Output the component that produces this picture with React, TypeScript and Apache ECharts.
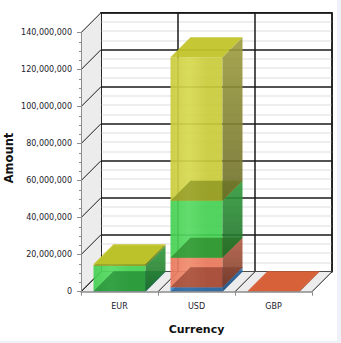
import React, { useEffect, useRef } from "react";
import * as echarts from "echarts";

const categories = ["EUR", "USD", "GBP"];
const blueValues = [300000, 2400000, 0];
const redValues = [0, 16000000, 200000];
const greenValues = [13600000, 30800000, 0];
const yellowValues = [1000000, 77500000, 0];
const yAxisMax = 140000000;
const yAxisStep = 20000000;

const DX = 20;
const DY = -20;
const BAR_RATIO = 0.675;

const seriesStyles = [
  { name: "Blue", values: blueValues, front: "#3a88c8", light: "#4a98d6", side: "#2c6ca8", sideDark: "#1f4f80", top: "#3a80c0", dark: "#143a66" },
  { name: "Red", values: redValues, front: "#e8775a", light: "#f08a6c", side: "#b05a40", sideDark: "#7a3a26", top: "#d95f36", dark: "#6a200c" },
  { name: "Green", values: greenValues, front: "#44cf51", light: "#55da61", side: "#2f9a3a", sideDark: "#1f6e28", top: "#3cbe48", dark: "#0e6016" },
  { name: "Yellow", values: yellowValues, front: "#c9cb3a", light: "#d6d84e", side: "#9c9c3e", sideDark: "#6e6e28", top: "#c2c42a", dark: "#6a6a10" },
];

function rgba(hex: string, a: number) {
  const h = hex.replace("#", "");
  const r = parseInt(h.substring(0, 2), 16);
  const g = parseInt(h.substring(2, 4), 16);
  const b = parseInt(h.substring(4, 6), 16);
  return `rgba(${r},${g},${b},${a})`;
}

function makeBarRender(st: any) {
  return (params: any, api: any) => {
    const ci = api.value(0);
    const lo = api.value(1);
    const hi = api.value(2);
    if (!(hi > lo)) return { type: "group", children: [] };
    const pLo = api.coord([ci, lo]);
    const pHi = api.coord([ci, hi]);
    const bw = api.size([1, 0])[0] * BAR_RATIO;
    const x0 = pLo[0] - bw / 2;
    const x1 = pLo[0] + bw / 2;
    const yb = pLo[1];
    const yt = pHi[1];
    const children: any[] = [];
    // front face
    children.push({
      type: "rect",
      shape: { x: x0, y: yt, width: bw, height: yb - yt },
      style: {
        fill: new echarts.graphic.LinearGradient(0, 0, 1, 0, [
          { offset: 0, color: rgba(st.front, 0.92) },
          { offset: 0.35, color: rgba(st.light, 0.92) },
          { offset: 0.7, color: rgba(st.front, 0.92) },
          { offset: 1, color: rgba(st.front, 0.92) },
        ]),
      },
    });
    // bottom face seen through
    children.push({
      type: "polygon",
      shape: { points: [[x0, yb], [x1, yb], [x1 + DX, yb + DY], [x0 + DX, yb + DY]] },
      style: { fill: rgba(st.dark, 0.42) },
    });
    // right side face
    children.push({
      type: "polygon",
      shape: { points: [[x1, yb], [x1 + DX, yb + DY], [x1 + DX, yt + DY], [x1, yt]] },
      style: {
        fill: new echarts.graphic.LinearGradient(0, 0, 0, 1, [
          { offset: 0, color: rgba(st.side, 0.9) },
          { offset: 1, color: rgba(st.sideDark, 0.9) },
        ]),
      },
    });
    // top face
    children.push({
      type: "polygon",
      shape: { points: [[x0, yt], [x1, yt], [x1 + DX, yt + DY], [x0 + DX, yt + DY]] },
      style: { fill: rgba(st.top, 0.95) },
    });
    return { type: "group", children };
  };
}

export default function App() {
  const ref = useRef<HTMLDivElement>(null);
  useEffect(() => {
    if (!ref.current) return;
    const chart = echarts.init(ref.current, null, { renderer: "svg" });

    const cumulative = categories.map(() => 0);
    const barSeries = seriesStyles.map((st) => {
      const data = categories.map((_, i) => {
        const lo = cumulative[i];
        const hi = lo + st.values[i];
        cumulative[i] = hi;
        return [i, lo, hi];
      });
      return {
        type: "custom",
        name: st.name,
        xAxisIndex: 0,
        yAxisIndex: 0,
        z: 3,
        clip: false,
        silent: true,
        encode: { x: 0, y: 2 },
        renderItem: makeBarRender(st),
        data,
      };
    });

    const wallSeries = {
      type: "custom",
      xAxisIndex: 0,
      yAxisIndex: 0,
      z: 1,
      silent: true,
      clip: false,
      data: [[0, 0]],
      renderItem: (params: any, api: any) => {
        const cs = params.coordSys;
        const x = cs.x;
        const y = cs.y;
        const w = cs.width;
        const h = cs.height;
        const children: any[] = [];
        children.push({
          type: "polygon",
          shape: { points: [[x, y + h], [x, y], [x + DX, y + DY], [x + DX, y + h + DY]] },
          style: { fill: "#ececec" },
        });
        children.push({
          type: "polygon",
          shape: { points: [[x, y + h], [x + w, y + h], [x + w + DX, y + h + DY], [x + DX, y + h + DY]] },
          style: { fill: "#ececec" },
        });
        for (let v = 0; v <= yAxisMax; v += yAxisStep) {
          const py = api.coord([0, v])[1];
          children.push({
            type: "line",
            shape: { x1: x, y1: py, x2: x + DX, y2: py + DY },
            style: { stroke: "#1a1a1a", lineWidth: 1 },
          });
        }
        for (let i = 0; i <= categories.length; i++) {
          const px = x + (i * w) / categories.length;
          children.push({
            type: "line",
            shape: { x1: px, y1: y + h, x2: px + DX, y2: y + h + DY },
            style: { stroke: "#1a1a1a", lineWidth: 1 },
          });
        }
        return { type: "group", children };
      },
    };

    const option: any = {
      animation: false,
      backgroundColor: "#ffffff",
      grid: [
        { left: 81, top: 32.7, width: 231, height: 259, show: false },
        { left: 101, top: 12.7, width: 231, height: 259, show: true, backgroundColor: "#ffffff", borderColor: "#1a1a1a", borderWidth: 1.5 },
      ],
      xAxis: [
        {
          gridIndex: 0,
          type: "category",
          data: categories,
          boundaryGap: true,
          z: 10,
          axisLine: { show: true, lineStyle: { color: "#8c8c8c", width: 1.5 } },
          axisTick: { show: true, length: 4, lineStyle: { color: "#8c8c8c" } },
          axisLabel: { fontSize: 8, fontFamily: "DejaVu Sans", color: "#1c1c2c", margin: 11 },
          splitLine: { show: false },
        },
        {
          gridIndex: 1,
          type: "category",
          data: categories,
          boundaryGap: true,
          axisLine: { show: false },
          axisTick: { show: false },
          axisLabel: { show: false },
          splitLine: { show: true, lineStyle: { color: "#1a1a1a", width: 1.5 } },
        },
      ],
      yAxis: [
        {
          gridIndex: 0,
          type: "value",
          min: 0,
          max: yAxisMax,
          interval: yAxisStep,
          z: 10,
          axisLine: { show: true, lineStyle: { color: "#8c8c8c", width: 1 } },
          axisTick: { show: true, length: 4, lineStyle: { color: "#8c8c8c" } },
          minorTick: { show: true, splitNumber: 4, length: 2, lineStyle: { color: "#8c8c8c" } },
          axisLabel: {
            fontSize: 8,
            fontFamily: "DejaVu Sans",
            color: "#1c1c2c",
            margin: 9,
            formatter: (v: number) => v.toLocaleString("en-US"),
          },
          splitLine: { show: false },
        },
        {
          gridIndex: 1,
          type: "value",
          min: 0,
          max: yAxisMax,
          interval: yAxisStep,
          axisLine: { show: false },
          axisTick: { show: false },
          axisLabel: { show: false },
          minorTick: { show: false, splitNumber: 4 },
          splitLine: { show: true, lineStyle: { color: "#1a1a1a", width: 1.5 } },
          minorSplitLine: { show: true, lineStyle: { color: "#e8e8e8", width: 1.5 } },
        },
      ],
      graphic: [
        {
          type: "text",
          x: 9,
          y: 158,
          rotation: Math.PI / 2,
          style: { text: "Amount", align: "center", verticalAlign: "middle", font: "bold 11.5px 'DejaVu Sans'", fill: "#111111" },
        },
        {
          type: "text",
          x: 196.5,
          y: 329,
          style: { text: "Currency", align: "center", verticalAlign: "middle", font: "bold 11px 'DejaVu Sans'", fill: "#111111" },
        },
        { type: "rect", shape: { x: 337, y: 0, width: 4, height: 343 }, style: { fill: "#eef2f8" } },
        { type: "rect", shape: { x: 0, y: 341, width: 341, height: 2 }, style: { fill: "#eef2f8" } },
      ],
      series: [wallSeries, ...barSeries],
    };
    chart.setOption(option);
    return () => chart.dispose();
  }, []);
  return (
    <div
      ref={ref}
      style={{ position: "fixed", left: 0, top: 0, width: 341, height: 343, background: "#ffffff" }}
    />
  );
}
